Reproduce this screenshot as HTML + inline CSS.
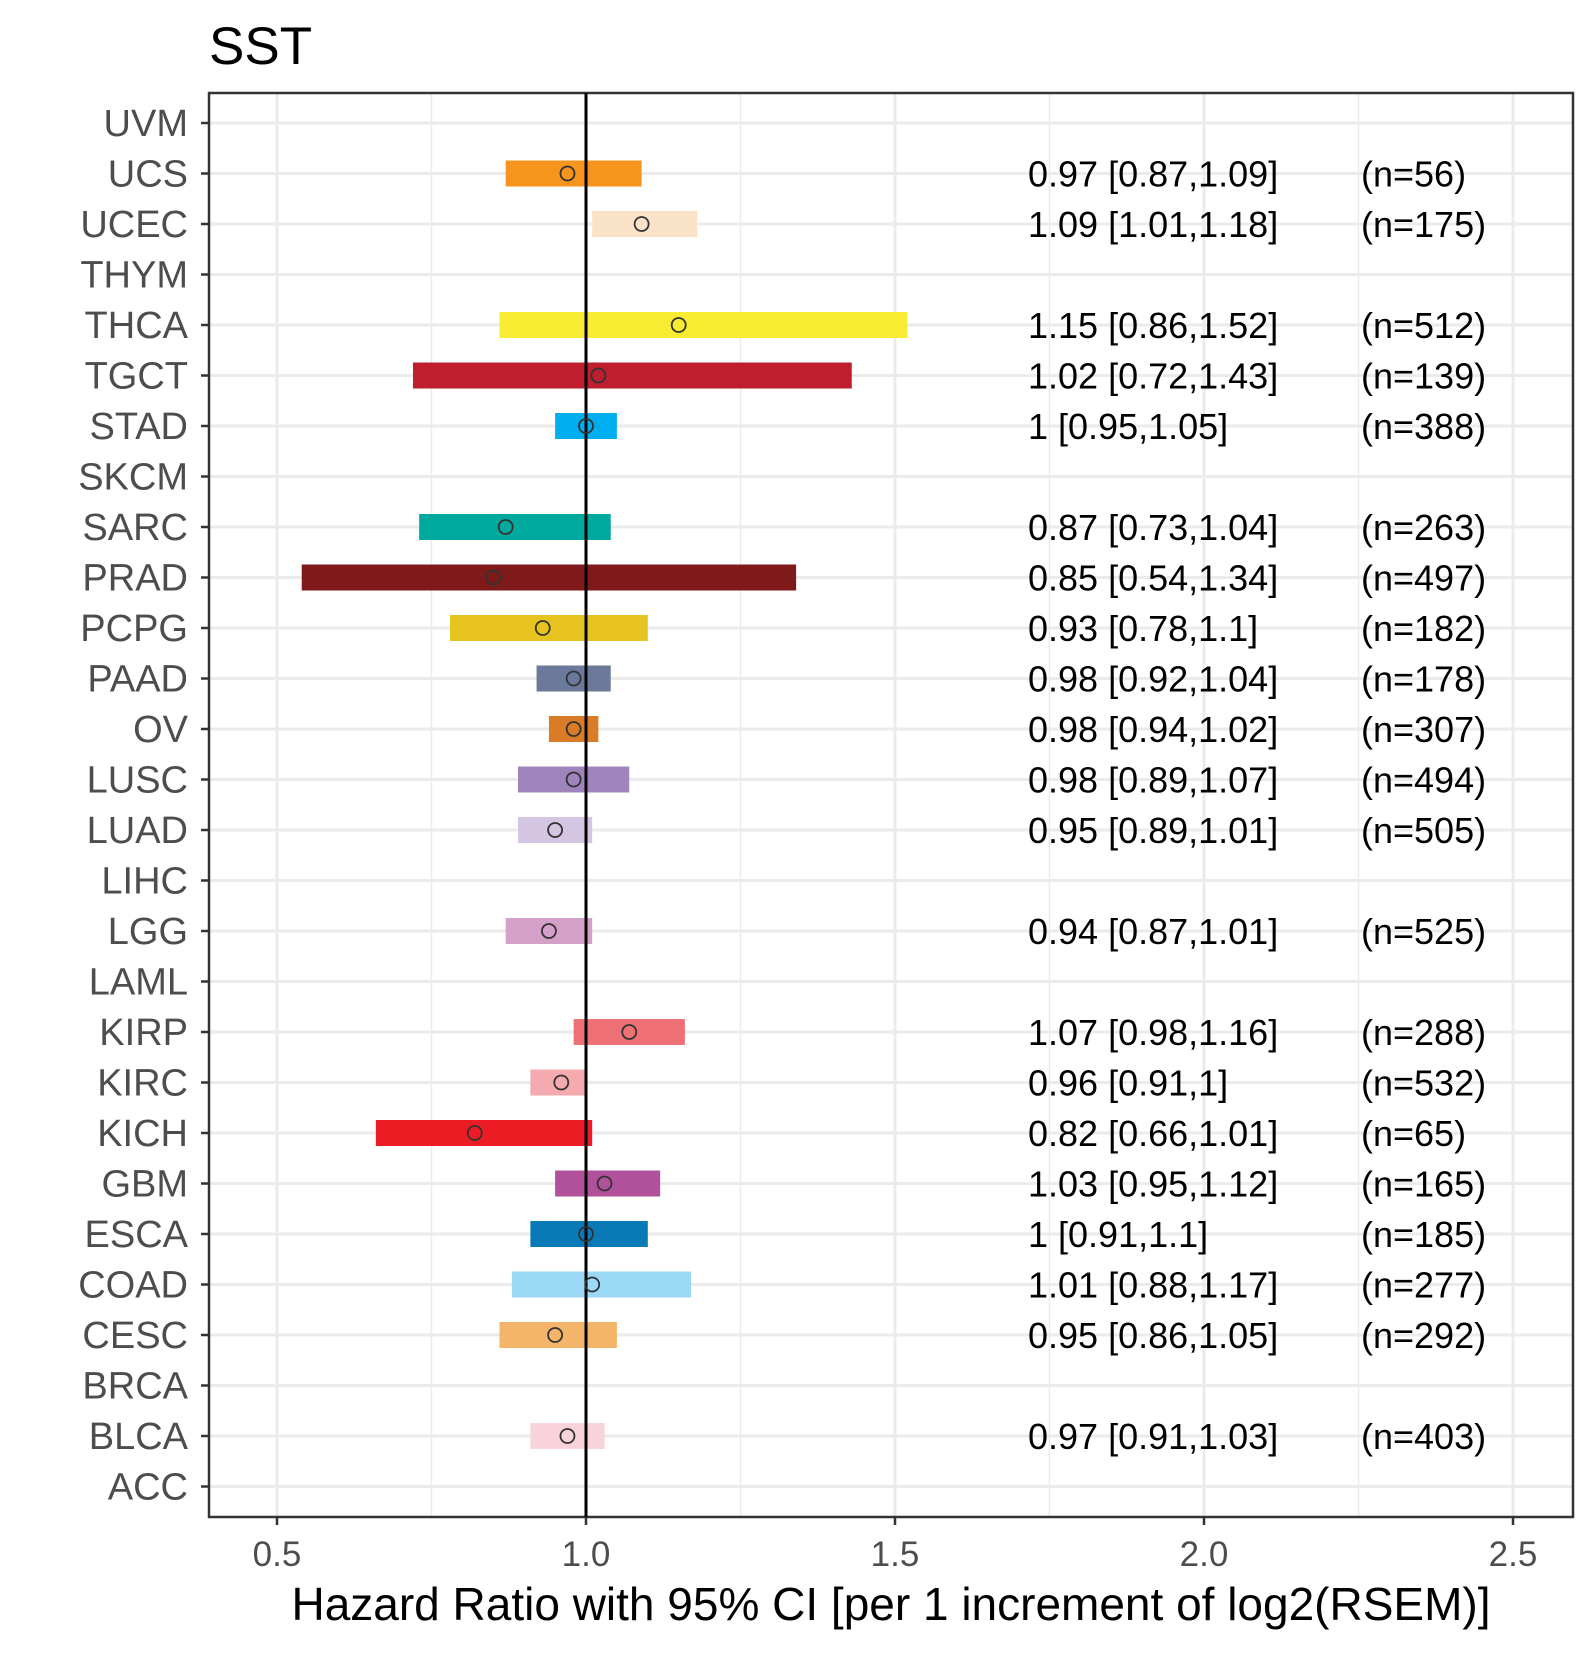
<!DOCTYPE html>
<html><head><meta charset="utf-8"><style>
body{margin:0;background:#fff}
svg text{font-family:"Liberation Sans",Arial,sans-serif}
</style></head><body>
<svg id="chart" width="1590" height="1650" xmlns="http://www.w3.org/2000/svg">
<text x="209" y="64" font-size="53" fill="#000">SST</text>
<g id="grid"></g>
<rect x="209" y="93" width="1364" height="1424" fill="none" stroke="#333" stroke-width="2.5"/>
<g id="marks"></g>
<text x="891" y="1620" font-size="46" text-anchor="middle" fill="#000">Hazard Ratio with 95% CI [per 1 increment of log2(RSEM)]</text>
</svg>
<script>
const cats=["UVM","UCS","UCEC","THYM","THCA","TGCT","STAD","SKCM","SARC","PRAD","PCPG","PAAD","OV","LUSC","LUAD","LIHC","LGG","LAML","KIRP","KIRC","KICH","GBM","ESCA","COAD","CESC","BRCA","BLCA","ACC"];
const hr=[null,0.97,1.09,null,1.15,1.02,1,null,0.87,0.85,0.93,0.98,0.98,0.98,0.95,null,0.94,null,1.07,0.96,0.82,1.03,1,1.01,0.95,null,0.97,null];
const lo=[null,0.87,1.01,null,0.86,0.72,0.95,null,0.73,0.54,0.78,0.92,0.94,0.89,0.89,null,0.87,null,0.98,0.91,0.66,0.95,0.91,0.88,0.86,null,0.91,null];
const hi=[null,1.09,1.18,null,1.52,1.43,1.05,null,1.04,1.34,1.1,1.04,1.02,1.07,1.01,null,1.01,null,1.16,1,1.01,1.12,1.1,1.17,1.05,null,1.03,null];
const ns=[null,56,175,null,512,139,388,null,263,497,182,178,307,494,505,null,525,null,288,532,65,165,185,277,292,null,403,null];
const colors=[null,"#F7941D","#FAE2C9",null,"#F7EC31","#BE1E2D","#00AEEF",null,"#00A99D","#7F1A1A","#E6C31E","#6B7A9A","#D97B27","#A084BD","#D4C5E2",null,"#D49FC9",null,"#EE6F74","#F4AAAE","#ED1C24","#B1509B","#0A7AB7","#9BD9F7","#F4B46A",null,"#F9D3DB",null];
const xTicks=[0.5,1.0,1.5,2.0,2.5];
const xMinor=[0.75,1.25,1.75,2.25];
const NS="http://www.w3.org/2000/svg";
const X=v=>277+(v-0.5)*618;
const Y=i=>123+i*50.5;
const grid=document.getElementById('grid'),marks=document.getElementById('marks'),svg=document.getElementById('chart');
function mk(p,tag,a){const e=document.createElementNS(NS,tag);for(const k in a)e.setAttribute(k,a[k]);p.appendChild(e);return e;}
xMinor.forEach(v=>{const l=mk(grid,'line',{x1:X(v),x2:X(v),y1:93,y2:1517,stroke:'#ebebeb','stroke-width':1.5});

});
xTicks.forEach(v=>{const l=mk(grid,'line',{x1:X(v),x2:X(v),y1:93,y2:1517,stroke:'#ebebeb','stroke-width':3});


const t=mk(svg,'line',{x1:X(v),x2:X(v),y1:1517,y2:1525,stroke:'#333','stroke-width':2.5});


const tx=mk(svg,'text',{x:X(v),y:1566,'font-size':35,'text-anchor':'middle',fill:'#4d4d4d'});tx.textContent=v.toFixed(1);

});
cats.forEach((c,i)=>{const y=Y(i);
const g=mk(grid,'line',{x1:209,x2:1573,y1:y,y2:y,stroke:'#ebebeb','stroke-width':3});


const t=mk(svg,'line',{x1:201,x2:209,y1:y,y2:y,stroke:'#333','stroke-width':2.5});


const lb=mk(svg,'text',{x:188,y:y+13,'font-size':38,'text-anchor':'end',fill:'#4d4d4d'});lb.textContent=c;


if(hr[i]==null)return;
const r=mk(marks,'rect',{x:X(lo[i]),y:y-13,width:X(hi[i])-X(lo[i]),height:26,fill:colors[i]});


const a=mk(svg,'text',{x:1028,y:y+13,'font-size':36,fill:'#000'});a.textContent=hr[i]+' ['+lo[i]+','+hi[i]+']';


const n=mk(svg,'text',{x:1361,y:y+13,'font-size':36,fill:'#000'});n.textContent='(n='+ns[i]+')';

});
const ref=mk(marks,'line',{x1:X(1),x2:X(1),y1:93,y2:1517,stroke:'#000','stroke-width':3});


cats.forEach((c,i)=>{if(hr[i]==null)return;
const p=mk(marks,'ellipse',{cx:X(hr[i]),cy:Y(i),rx:7,ry:7,fill:'none',stroke:'#333','stroke-width':1.8});

});
</script>
</body></html>
